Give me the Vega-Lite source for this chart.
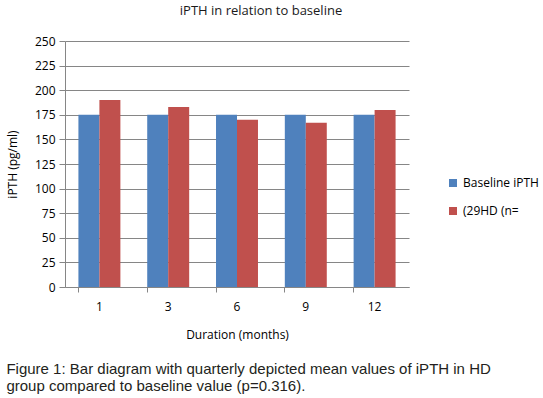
{
  "$schema": "https://vega.github.io/schema/vega-lite/v6.json",
  "background": "white",
  "padding": {"left": 6, "top": 5, "right": 5, "bottom": 4},
  "title": {
    "text": ["Figure 1: Bar diagram with quarterly depicted mean values of iPTH in HD", "group compared to baseline value (p=0.316)."],
    "orient": "bottom",
    "anchor": "start",
    "frame": "bounds",
    "font": "Liberation Sans",
    "fontSize": 15,
    "fontWeight": "normal",
    "color": "#231f20",
    "lineHeight": 17,
    "offset": 22
  },
  "data": {
    "values": [
      {"month": "1", "series": "Baseline iPTH", "value": 175},
      {"month": "1", "series": "(29HD (n=", "value": 190},
      {"month": "3", "series": "Baseline iPTH", "value": 175},
      {"month": "3", "series": "(29HD (n=", "value": 183},
      {"month": "6", "series": "Baseline iPTH", "value": 175},
      {"month": "6", "series": "(29HD (n=", "value": 170},
      {"month": "9", "series": "Baseline iPTH", "value": 175},
      {"month": "9", "series": "(29HD (n=", "value": 167},
      {"month": "12", "series": "Baseline iPTH", "value": 175},
      {"month": "12", "series": "(29HD (n=", "value": 180}
    ]
  },
  "vconcat": [
    {
      "width": 344,
      "height": 246,
      "title": {
        "text": "iPTH in relation to baseline",
        "anchor": "middle",
        "font": "Open Sans",
        "fontSize": 13,
        "fontWeight": "normal",
        "color": "#1a1a1a",
        "dx": 24,
        "offset": 17
      },
      "mark": {"type": "bar"},
      "encoding": {
        "x": {
          "field": "month",
          "type": "nominal",
          "sort": ["1", "3", "6", "9", "12"],
          "scale": {"paddingInner": 0.39, "paddingOuter": 0.195},
          "axis": {
            "title": "Duration (months)",
            "labelAngle": 0,
            "bandPosition": 0,
            "labelFont": "Open Sans",
            "labelFontSize": 12,
            "labelColor": "#000000",
            "labelPadding": 9,
            "labelAlign": "center",
            "titleFont": "Open Sans",
            "titleFontSize": 12,
            "titleFontWeight": "normal",
            "titleColor": "#000000",
            "titlePadding": 17,
            "domainColor": "#868686",
            "tickColor": "#868686",
            "tickSize": 5,
            "grid": false
          }
        },
        "xOffset": {"field": "series", "type": "nominal", "sort": ["Baseline iPTH", "(29HD (n="]},
        "y": {
          "field": "value",
          "type": "quantitative",
          "scale": {"domain": [0, 250], "nice": false},
          "axis": {
            "title": "iPTH (pg/ml)",
            "values": [0, 25, 50, 75, 100, 125, 150, 175, 200, 225, 250],
            "labelFont": "Open Sans",
            "labelFontSize": 12,
            "labelColor": "#000000",
            "labelPadding": 4,
            "titleFont": "Open Sans",
            "titleFontSize": 12,
            "titleFontWeight": "normal",
            "titleColor": "#000000",
            "titlePadding": 15,
            "domainColor": "#868686",
            "tickColor": "#868686",
            "tickSize": 6,
            "gridColor": "#868686",
            "grid": true
          }
        },
        "color": {
          "field": "series",
          "type": "nominal",
          "scale": {"domain": ["Baseline iPTH", "(29HD (n="], "range": ["#4f81bd", "#c0504d"]},
          "legend": {
            "title": null,
            "orient": "none",
            "legendX": 382,
            "legendY": 136,
            "symbolType": "square",
            "symbolSize": 64,
            "symbolStrokeWidth": 0,
            "labelFont": "Open Sans",
            "labelFontSize": 12,
            "labelColor": "#000000",
            "rowPadding": 16,
            "labelOffset": 4
          }
        }
      }
    }
  ],
  "config": {
    "view": {"stroke": null},
    "axis": {"domainWidth": 1, "tickWidth": 1, "gridWidth": 1}
  }
}
